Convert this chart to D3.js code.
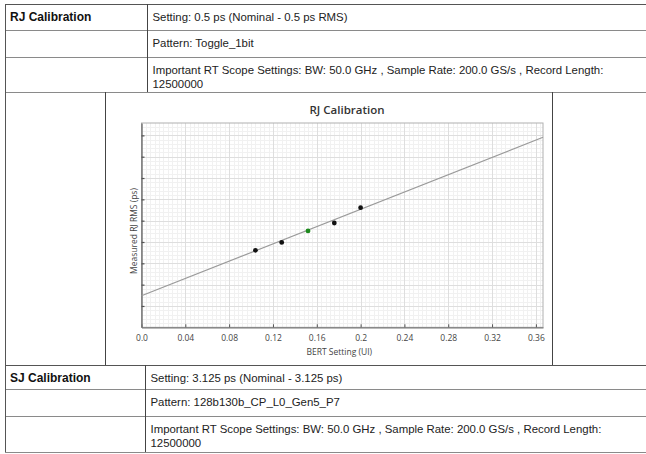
<!DOCTYPE html>
<html>
<head>
<meta charset="utf-8">
<script src="https://cdn.jsdelivr.net/npm/d3@7"></script>
<style>
  html, body { margin: 0; padding: 0; background: #fff; }
  svg { display: block; }
</style>
</head>
<body>
<svg id="root" width="646" height="454"></svg>
<script>
// ---------- data ----------
const topSectionTitle = "RJ Calibration";
const topSectionRows = [
  ["Setting: 0.5 ps (Nominal - 0.5 ps RMS)"],
  ["Pattern: Toggle_1bit"],
  ["Important RT Scope Settings: BW: 50.0 GHz , Sample Rate: 200.0 GS/s , Record Length:", "12500000"]
];
const bottomSectionTitle = "SJ Calibration";
const bottomSectionRows = [
  ["Setting: 3.125 ps (Nominal - 3.125 ps)"],
  ["Pattern: 128b130b_CP_L0_Gen5_P7"],
  ["Important RT Scope Settings: BW: 50.0 GHz , Sample Rate: 200.0 GS/s , Record Length:", "12500000"]
];

const chartTitle = "RJ Calibration";
const xAxisTitle = "BERT Setting (UI)";
const yAxisTitle = "Measured RJ RMS (ps)";
const xTickValues = [0, 0.04, 0.08, 0.12, 0.16, 0.2, 0.24, 0.28, 0.32, 0.36];
const xTickLabels = ["0.0", "0.04", "0.08", "0.12", "0.16", "0.2", "0.24", "0.28", "0.32", "0.36"];
const yTickValues = [0.1, 0.2, 0.3, 0.4, 0.5, 0.6, 0.7, 0.8, 0.9];

const bertSetting = [0.104, 0.128, 0.152, 0.176, 0.200];
const measuredRJ = [0.361, 0.398, 0.452, 0.489, 0.561];
const pointIsNominal = [false, false, true, false, false];

const fitX = [0, 0.3665];
const fitY = [0.148, 0.891];

// ---------- drawing ----------
const svg = d3.select("#root");
const tableFont = "'Liberation Sans', Arial, sans-serif";
const chartFont = "'Open Sans', 'Noto Sans', sans-serif";

function hline(y, x1, x2, color, w) {
  svg.append("line").attr("x1", x1).attr("x2", x2).attr("y1", y).attr("y2", y)
    .attr("stroke", color).attr("stroke-width", w || 1);
}
function vline(x, y1, y2, color, w) {
  svg.append("line").attr("x1", x).attr("x2", x).attr("y1", y1).attr("y2", y2)
    .attr("stroke", color).attr("stroke-width", w || 1);
}

function drawSection(title, rows, rowYs, divX) {
  rowYs.forEach((y, i) => hline(y + 0.5, 5, 646, i === 0 ? "#555" : "#8a8a8a", 1));
  vline(5.5, rowYs[0], rowYs[rowYs.length - 1], "#555");
  vline(divX + 0.5, rowYs[0], rowYs[rowYs.length - 1], "#444");
  svg.append("text").attr("x", 10).attr("y", rowYs[0] + 16.5)
    .attr("font-family", tableFont).attr("font-size", 12).attr("font-weight", "bold")
    .attr("fill", "#111").text(title);
  rows.forEach((lines, i) => {
    lines.forEach((ln, j) => {
      svg.append("text").attr("x", divX + 5.5).attr("y", rowYs[i] + 16.5 + j * 14)
        .attr("font-family", tableFont).attr("font-size", 11.4)
        .attr("fill", "#222").text(ln);
    });
  });
}

drawSection(topSectionTitle, topSectionRows, [4, 30, 57, 92], 147);
drawSection(bottomSectionTitle, bottomSectionRows, [365, 389, 416, 452], 145);

// chart row borders
vline(5.5, 92, 365, "#555");
vline(105.5, 92, 365, "#444");
vline(552.5, 92, 365, "#444");

// ---------- chart ----------
const plot = { left: 141.5, right: 543, top: 123, bottom: 327.3 };
const x = d3.scaleLinear().domain([0, 0.3665]).range([plot.left, plot.right]);
const y = d3.scaleLinear().domain([0, 0.958]).range([plot.bottom, plot.top]);

const g = svg.append("g");
g.append("rect").attr("x", plot.left).attr("y", plot.top)
  .attr("width", plot.right - plot.left).attr("height", plot.bottom - plot.top)
  .attr("fill", "#fff");

// minor grid
const xMinor = d3.range(0.004, 0.3665, 0.004);
const yMinor = d3.range(0.02, 0.958, 0.02);
g.append("g").selectAll("line").data(xMinor).join("line")
  .attr("x1", d => Math.round(x(d)) + 0.5).attr("x2", d => Math.round(x(d)) + 0.5)
  .attr("y1", plot.top).attr("y2", plot.bottom)
  .attr("stroke", "#f1f1f1").attr("stroke-width", 1);
g.append("g").selectAll("line").data(yMinor).join("line")
  .attr("y1", d => Math.round(y(d)) + 0.5).attr("y2", d => Math.round(y(d)) + 0.5)
  .attr("x1", plot.left).attr("x2", plot.right)
  .attr("stroke", "#f1f1f1").attr("stroke-width", 1);
// major grid
g.append("g").selectAll("line").data(xTickValues.slice(1)).join("line")
  .attr("x1", d => Math.round(x(d)) + 0.5).attr("x2", d => Math.round(x(d)) + 0.5)
  .attr("y1", plot.top).attr("y2", plot.bottom)
  .attr("stroke", "#dedede").attr("stroke-width", 1);
g.append("g").selectAll("line").data(yTickValues).join("line")
  .attr("y1", d => Math.round(y(d)) + 0.5).attr("y2", d => Math.round(y(d)) + 0.5)
  .attr("x1", plot.left).attr("x2", plot.right)
  .attr("stroke", "#dedede").attr("stroke-width", 1);

// frame
g.append("rect").attr("x", plot.left).attr("y", plot.top)
  .attr("width", plot.right - plot.left).attr("height", plot.bottom - plot.top)
  .attr("fill", "none").attr("stroke", "#b0b0b0").attr("stroke-width", 1);

// axes
const xAxis = d3.axisBottom(x).tickValues(xTickValues)
  .tickFormat((d, i) => xTickLabels[i]).tickSizeInner(-3).tickSizeOuter(0).tickPadding(8);
const xg = g.append("g").attr("transform", `translate(0,${plot.bottom})`).call(xAxis);
xg.select(".domain").attr("stroke", "#777").attr("stroke-width", 1.2);
xg.selectAll(".tick line").attr("stroke", "#555");
xg.selectAll("text").attr("font-family", chartFont).attr("font-size", 8.5).attr("fill", "#444");

const yAxis = d3.axisLeft(y).tickValues(yTickValues).tickFormat("")
  .tickSizeInner(-3).tickSizeOuter(0);
const yg = g.append("g").attr("transform", `translate(${plot.left},0)`).call(yAxis);
yg.select(".domain").attr("stroke", "#777").attr("stroke-width", 1.5);
yg.selectAll(".tick line").attr("stroke", "#555").attr("stroke-width", 1.2);

// fit line
const lineGen = d3.line().x(d => x(d[0])).y(d => y(d[1]));
g.append("path").datum(d3.zip(fitX, fitY)).attr("d", lineGen)
  .attr("fill", "none").attr("stroke", "#9a9a9a").attr("stroke-width", 1.2);

// points
g.append("g").selectAll("circle").data(d3.zip(bertSetting, measuredRJ, pointIsNominal)).join("circle")
  .attr("cx", d => x(d[0])).attr("cy", d => y(d[1])).attr("r", 2.4)
  .attr("fill", d => d[2] ? "#1e8a1e" : "#111");

// titles
svg.append("text").attr("x", 347).attr("y", 114).attr("text-anchor", "middle")
  .attr("font-family", chartFont).attr("font-size", 11.5).attr("font-weight", "600")
  .attr("fill", "#333").text(chartTitle);
svg.append("text").attr("x", (plot.left + plot.right) / 2 - 3).attr("y", 355).attr("text-anchor", "middle")
  .attr("font-family", chartFont).attr("font-size", 8.5).attr("fill", "#444").text(xAxisTitle);
svg.append("text").attr("transform", "translate(134,231) rotate(-90)").attr("text-anchor", "middle")
  .attr("dy", "0.35em")
  .attr("font-family", chartFont).attr("font-size", 8.5).attr("fill", "#444").text(yAxisTitle);
</script>
</body>
</html>
